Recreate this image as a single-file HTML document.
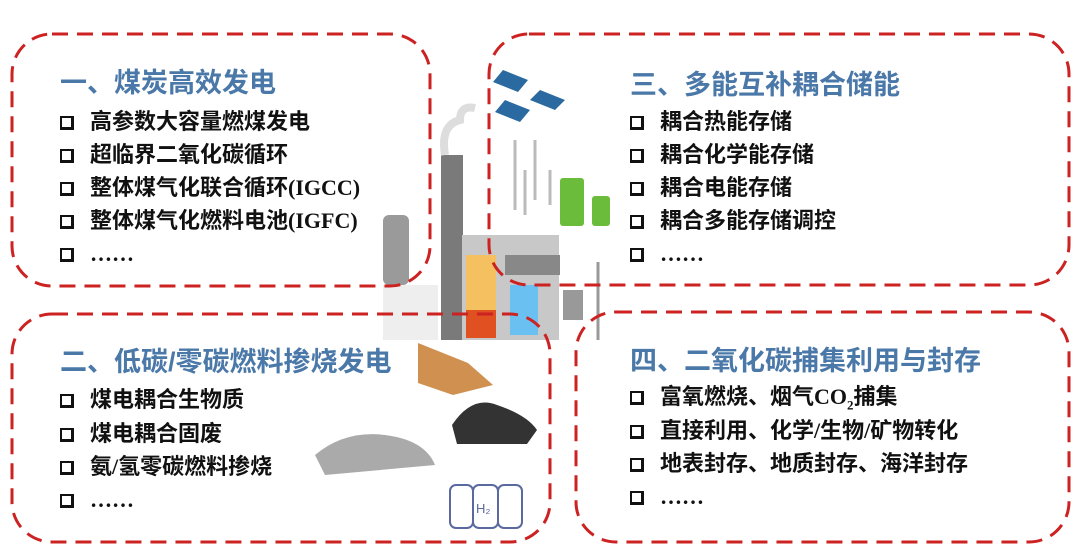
<!DOCTYPE html>
<html><head><meta charset="utf-8"><style>
body{margin:0;width:1080px;height:558px;background:#fff;position:relative;overflow:hidden;font-family:"Liberation Sans","Noto Sans CJK SC",sans-serif}
.t{position:absolute;font-size:27px;font-weight:bold;color:#4a78a8;white-space:nowrap;line-height:32px}
.i{position:absolute;font-size:22px;font-weight:bold;color:#111;white-space:nowrap;line-height:26px;font-family:"Liberation Serif","Noto Sans CJK SC",serif}
.cb{display:inline-block;width:14px;height:14px;border:2px solid #111;border-right-width:3px;border-bottom-width:3px;margin-right:16px;vertical-align:-1px;box-sizing:border-box}
svg{position:absolute;left:0;top:0}
</style></head><body>
<svg width="1080" height="558">
<g>
<rect x="383" y="215" width="26" height="70" rx="6" fill="#9a9a9a"/>
<rect x="383" y="285" width="55" height="55" fill="#eee"/>
<rect x="441" y="155" width="22" height="185" fill="#7a7a7a"/>
<path d="M445 155 q-5 -30 15 -35 q0 -15 15 -12" stroke="#ddd" stroke-width="8" fill="none"/>
<rect x="462" y="235" width="97" height="105" fill="#c8c8c8"/>
<rect x="466" y="255" width="30" height="55" fill="#f5c060"/>
<rect x="466" y="310" width="30" height="28" fill="#e05020"/>
<rect x="510" y="285" width="28" height="50" fill="#6ac0f0"/>
<rect x="505" y="255" width="55" height="20" fill="#888"/>
<rect x="563" y="290" width="20" height="30" fill="#999"/>
<line x1="598" y1="262" x2="598" y2="340" stroke="#999" stroke-width="3"/>
<path d="M503 70 l25 10 l-10 12 l-25 -10z M540 90 l25 10 l-10 10 l-25 -10z M505 100 l25 10 l-10 12 l-25 -10z" fill="#2a6aa0"/>
<g stroke="#bbb" stroke-width="3"><line x1="515" y1="140" x2="515" y2="210"/><line x1="535" y1="140" x2="535" y2="200"/><line x1="550" y1="170" x2="550" y2="205"/><line x1="525" y1="170" x2="525" y2="215"/></g>
<rect x="560" y="178" width="24" height="48" rx="3" fill="#6cbc3c"/>
<rect x="592" y="196" width="18" height="30" rx="3" fill="#6cbc3c"/>
<path d="M418 343 l50 20 l25 22 l-40 10 l-35 -12z" fill="#d09050"/>
<path d="M452 425 q20 -30 45 -20 q30 10 40 25 l-10 14 l-70 0z" fill="#333"/>
<path d="M315 455 q30 -25 70 -20 q40 5 50 30 l-110 10z" fill="#aaa"/>
<g fill="#fff" stroke="#5a6aa0" stroke-width="2"><rect x="450" y="485" width="23" height="43" rx="6"/><rect x="473" y="485" width="25" height="43" rx="6"/><rect x="498" y="485" width="24" height="43" rx="6"/></g>
<text x="476" y="513" font-size="13" fill="#5a6aa0" font-family="Liberation Sans">H₂</text>
</g>
<g fill="none" stroke="#cc2222" stroke-width="3" stroke-dasharray="16 9">
<rect x="12" y="34" width="418" height="252" rx="40"/>
<rect x="489" y="34" width="580" height="251" rx="40"/>
<rect x="12" y="314" width="538" height="228" rx="40"/>
<rect x="576" y="312" width="493" height="230" rx="40"/>
</g>
</svg>
<div class="t" style="left:60px;top:67px">一、煤炭高效发电</div>
<div class="i" style="left:60px;top:109px"><span class="cb"></span>高参数大容量燃煤发电</div>
<div class="i" style="left:60px;top:142px"><span class="cb"></span>超临界二氧化碳循环</div>
<div class="i" style="left:60px;top:175px"><span class="cb"></span>整体煤气化联合循环(IGCC)</div>
<div class="i" style="left:60px;top:208px"><span class="cb"></span>整体煤气化燃料电池(IGFC)</div>
<div class="i" style="left:60px;top:241px"><span class="cb"></span>……</div>

<div class="t" style="left:630px;top:69px">三、多能互补耦合储能</div>
<div class="i" style="left:630px;top:109px"><span class="cb"></span>耦合热能存储</div>
<div class="i" style="left:630px;top:142px"><span class="cb"></span>耦合化学能存储</div>
<div class="i" style="left:630px;top:175px"><span class="cb"></span>耦合电能存储</div>
<div class="i" style="left:630px;top:208px"><span class="cb"></span>耦合多能存储调控</div>
<div class="i" style="left:630px;top:241px"><span class="cb"></span>……</div>

<div class="t" style="left:60px;top:346px">二、低碳/零碳燃料掺烧发电</div>
<div class="i" style="left:60px;top:387px"><span class="cb"></span>煤电耦合生物质</div>
<div class="i" style="left:60px;top:421px"><span class="cb"></span>煤电耦合固废</div>
<div class="i" style="left:60px;top:454px"><span class="cb"></span>氨/氢零碳燃料掺烧</div>
<div class="i" style="left:60px;top:487px"><span class="cb"></span>……</div>

<div class="t" style="left:630px;top:345px">四、二氧化碳捕集利用与封存</div>
<div class="i" style="left:630px;top:384px"><span class="cb"></span>富氧燃烧、烟气CO<sub style="font-size:13px">2</sub>捕集</div>
<div class="i" style="left:630px;top:418px"><span class="cb"></span>直接利用、化学/生物/矿物转化</div>
<div class="i" style="left:630px;top:451px"><span class="cb"></span>地表封存、地质封存、海洋封存</div>
<div class="i" style="left:630px;top:484px"><span class="cb"></span>……</div>
</body></html>
